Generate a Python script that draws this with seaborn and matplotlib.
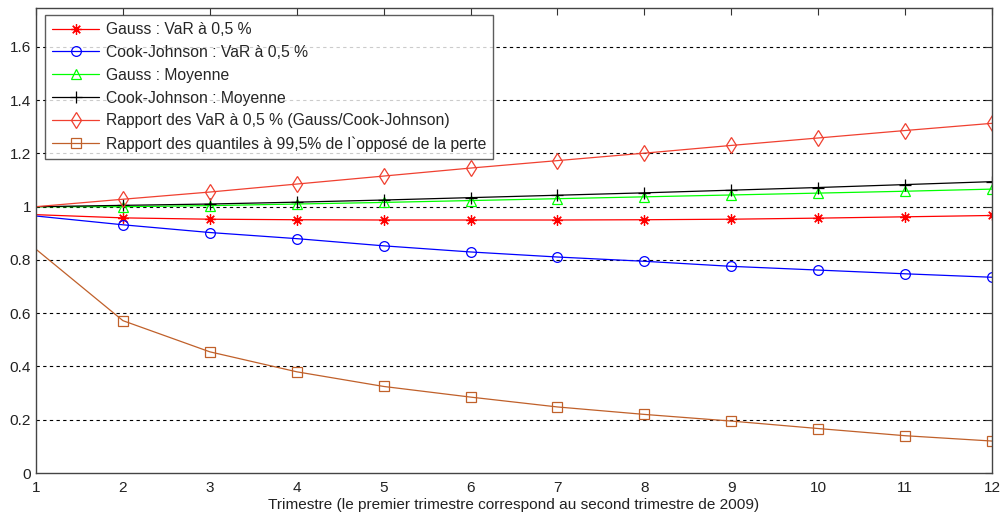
import matplotlib
matplotlib.use("Agg")
import matplotlib.pyplot as plt
from matplotlib.lines import Line2D
import seaborn as sns
import numpy as np

quarters = list(range(1, 13))
gauss_var = [0.97, 0.958, 0.953, 0.951, 0.950, 0.950, 0.950, 0.951, 0.953, 0.957, 0.962, 0.967]
cj_var = [0.965, 0.932, 0.903, 0.880, 0.853, 0.830, 0.811, 0.795, 0.776, 0.762, 0.748, 0.735]
gauss_moy = [1.0, 1.0, 1.004, 1.010, 1.016, 1.023, 1.030, 1.037, 1.044, 1.051, 1.058, 1.066]
cj_moy = [1.0, 1.005, 1.010, 1.017, 1.025, 1.034, 1.043, 1.052, 1.062, 1.072, 1.083, 1.094]
ratio_var = [1.0, 1.028, 1.055, 1.085, 1.115, 1.145, 1.173, 1.201, 1.230, 1.258, 1.286, 1.313]
ratio_q = [0.84, 0.572, 0.455, 0.38, 0.325, 0.285, 0.248, 0.22, 0.195, 0.167, 0.140, 0.120]

labels = [
    "Gauss : VaR à 0,5 %",
    "Cook-Johnson : VaR à 0,5 %",
    "Gauss : Moyenne",
    "Cook-Johnson : Moyenne",
    "Rapport des VaR à 0,5 % (Gauss/Cook-Johnson)",
    "Rapport des quantiles à 99,5% de l`opposé de la perte",
]
yticks = [0, 0.2, 0.4, 0.6, 0.8, 1.0, 1.2, 1.4, 1.6]
ytick_labels = ["0", "0.2", "0.4", "0.6", "0.8", "1", "1.2", "1.4", "1.6"]
xlabel = "Trimestre (le premier trimestre correspond au second trimestre de 2009)"

sns.set_style("white")
plt.rcParams["font.family"] = ["Liberation Sans", "DejaVu Sans"]

fig = plt.figure(figsize=(10.01, 5.17), dpi=100)
ax = fig.add_axes([0.036, 0.0851, 0.955, 0.8994])

series = [gauss_var, cj_var, gauss_moy, cj_moy, ratio_var, ratio_q]
colors = ["#ff0000", "#0000ff", "#00ff00", "#000000", "#f04030", "#c0602a"]
markers = [(8, 2, 0), "o", "^", "+", "d", "s"]
sizes = [7.5, 7, 7.5, 9, 8.5, 7]

handles = []
for vals, lab, c, m, ms in zip(series, labels, colors, markers, sizes):
    filled = m in ("+",) or isinstance(m, tuple)
    mfc = c if filled else "none"
    sns.lineplot(x=quarters, y=vals, ax=ax, color=c, marker=m,
                 markersize=ms, markeredgecolor=c, markerfacecolor=mfc,
                 markeredgewidth=0.9, linewidth=0.9, markevery=slice(1, None))
    handles.append(Line2D([], [], color=c, marker=m, markersize=ms,
                          markeredgecolor=c, markerfacecolor=mfc,
                          markeredgewidth=0.9, linewidth=0.9, label=lab))

ax.set_xlim(1, 12)
ax.set_ylim(0, 1.746)
ax.set_xticks(quarters)
ax.set_xticklabels([str(q) for q in quarters])
ax.set_yticks(yticks)
ax.set_yticklabels(ytick_labels)
ax.tick_params(direction="in", top=True, right=True, length=5, width=0.8,
               labelsize=11.1, colors="#333333", labelcolor="#222222")
ax.tick_params(axis="x", pad=6)
for sp in ax.spines.values():
    sp.set_color("#444444")
    sp.set_linewidth(1.0)
for y in yticks[1:]:
    ax.axhline(y, color="black", linestyle=(0, (3, 3)), linewidth=0.8, zorder=0)
ax.set_xlabel(xlabel, fontsize=11.1, color="#222222", labelpad=2)

leg = ax.legend(handles=handles, loc="upper left", bbox_to_anchor=(0.0095, 0.985),
                fontsize=11.3, frameon=True, fancybox=False, edgecolor="#333333",
                handlelength=3.0, handletextpad=0.4, borderpad=0.45,
                labelspacing=0.5, borderaxespad=0.0)
leg.get_frame().set_linewidth(1.0)

fig.savefig("out.png", dpi=100)
